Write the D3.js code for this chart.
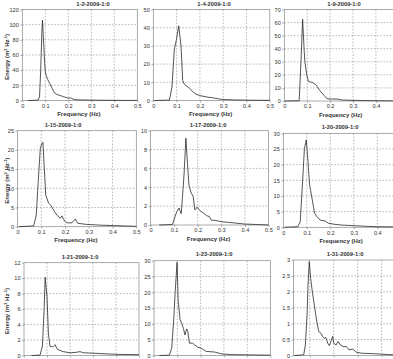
<!DOCTYPE html>
<html>
<head>
<meta charset="utf-8">
<script src="https://cdn.jsdelivr.net/npm/d3@7"></script>
<style>
  html, body { margin: 0; padding: 0; background: #fff; }
  svg { display: block; font-family: "Liberation Sans", Arial, sans-serif; }
</style>
</head>
<body>
<svg id="chart" width="393" height="359"></svg>
<script>
const titles = ["1-2-2009-1:0", "1-4-2009-1:0", "1-9-2009-1:0", "1-15-2009-1:0", "1-17-2009-1:0",
  "1-20-2009-1:0", "1-21-2009-1:0", "1-23-2009-1:0", "1-31-2009-1:0"]
const xTicks = [0, 0.1, 0.2, 0.3, 0.4, 0.5]

const freq1 = [0.025, 0.06, 0.07, 0.075, 0.08, 0.085, 0.088, 0.092, 0.097, 0.1, 0.105, 0.11, 0.12, 0.13, 0.14, 0.15, 0.16, 0.17, 0.18, 0.19, 0.2, 0.21, 0.22, 0.23, 0.25, 0.3, 0.35, 0.4, 0.45, 0.5]
const energy1 = [0, 0.3, 1, 5, 40, 90, 106, 80, 50, 38, 32, 28, 22, 16, 10, 8, 7, 6, 5, 4, 3, 3.5, 2, 1, 0.8, 0.5, 0.3, 0.2, 0.1, 0.1]
const yTicks1 = [0, 20, 40, 60, 80, 100, 120]

const freq2 = [0.005, 0.069, 0.08, 0.09, 0.1, 0.109, 0.119, 0.126, 0.133, 0.155, 0.168, 0.183, 0.2, 0.226, 0.255, 0.283, 0.31, 0.35, 0.4, 0.45, 0.5]
const energy2 = [0, 0.2, 7.4, 27.7, 34, 41, 30, 11, 9, 6.8, 5, 3.5, 2.7, 2, 1.5, 0.8, 0.5, 0.3, 0.2, 0.1, 0.1]
const yTicks2 = [0, 10, 20, 30, 40, 50]

const freq3 = [0.003, 0.065, 0.074, 0.08, 0.087, 0.09, 0.098, 0.105, 0.125, 0.14, 0.155, 0.17, 0.185, 0.2, 0.23, 0.25, 0.3, 0.4, 0.5]
const energy3 = [0, 0.2, 35, 62.5, 37.7, 30, 20, 15, 14, 12, 8, 5, 2, 1.5, 1.5, 0.8, 0.5, 0.2, 0.1]
const yTicks3 = [0, 10, 20, 30, 40, 50, 60, 70]

const freq4 = [0.006, 0.068, 0.079, 0.088, 0.096, 0.103, 0.107, 0.112, 0.119, 0.131, 0.14, 0.152, 0.166, 0.18, 0.187, 0.198, 0.208, 0.229, 0.243, 0.253, 0.29, 0.35, 0.45, 0.5]
const energy4 = [0, 0.2, 3, 12.6, 20.4, 21.7, 22, 16, 8.2, 6.1, 5.6, 4.3, 3, 2.2, 2.8, 1.5, 1, 1, 2, 0.9, 0.6, 0.4, 0.2, 0.1]
const yTicks4 = [0, 5, 10, 15, 20, 25]

const freq5 = [0.037, 0.093, 0.111, 0.121, 0.13, 0.135, 0.142, 0.15, 0.157, 0.163, 0.171, 0.181, 0.188, 0.198, 0.21, 0.223, 0.237, 0.249, 0.258, 0.272, 0.3, 0.343, 0.4, 0.45, 0.5]
const energy5 = [0, 0.05, 1.4, 1.8, 1.2, 2.8, 5.3, 9.2, 6.4, 4.2, 3.5, 3, 1.6, 1.9, 1.5, 1.3, 1, 0.9, 0.5, 0.5, 0.35, 0.25, 0.1, 0.05, 0]
const yTicks5 = [0, 2, 4, 6, 8, 10]

const freq6 = [0.005, 0.062, 0.072, 0.082, 0.09, 0.098, 0.105, 0.112, 0.122, 0.133, 0.143, 0.157, 0.178, 0.192, 0.214, 0.25, 0.305, 0.36, 0.4, 0.5]
const energy6 = [0, 0.2, 1.8, 14.6, 25.2, 27.9, 21, 13.5, 9.3, 4.5, 3.4, 2.3, 2, 1.3, 1, 0.7, 0.5, 0.3, 0.2, 0.1]
const yTicks6 = [0, 5, 10, 15, 20, 25, 30]

const freq7 = [0.033, 0.07, 0.08, 0.088, 0.092, 0.1, 0.106, 0.113, 0.125, 0.135, 0.145, 0.17, 0.2, 0.225, 0.243, 0.26, 0.3, 0.4, 0.5]
const energy7 = [0, 0.05, 1.2, 6.3, 10.1, 7.6, 2.9, 1.2, 1.1, 1.4, 0.8, 0.5, 0.35, 0.4, 0.5, 0.35, 0.3, 0.15, 0.1]
const yTicks7 = [0, 2, 4, 6, 8, 10, 12]

const freq8 = [0.023, 0.066, 0.076, 0.085, 0.091, 0.099, 0.104, 0.112, 0.119, 0.126, 0.133, 0.14, 0.145, 0.152, 0.166, 0.174, 0.188, 0.202, 0.224, 0.26, 0.29, 0.33, 0.4, 0.5]
const energy8 = [0, 0.1, 2.3, 11.8, 20.2, 29.5, 17, 11.3, 10.2, 8.6, 6.5, 8.4, 7.6, 3.9, 3.9, 3.4, 2.6, 2.3, 1.3, 1.1, 0.5, 0.3, 0.2, 0.1]
const yTicks8 = [0, 5, 10, 15, 20, 25, 30]

const freq9 = [0.036, 0.075, 0.082, 0.089, 0.093, 0.098, 0.104, 0.11, 0.117, 0.124, 0.131, 0.138, 0.147, 0.154, 0.161, 0.168, 0.175, 0.182, 0.189, 0.196, 0.2, 0.21, 0.218, 0.228, 0.239, 0.253, 0.263, 0.28, 0.295, 0.319, 0.36, 0.4, 0.45, 0.5]
const energy9 = [0, 0.02, 0.33, 1.27, 2.2, 2.95, 2.42, 2.06, 1.7, 1.33, 1.01, 0.75, 0.7, 0.6, 0.54, 0.56, 0.39, 0.31, 0.46, 0.6, 0.39, 0.33, 0.44, 0.33, 0.28, 0.28, 0.18, 0.2, 0.1, 0.07, 0.06, 0.04, 0.02, 0.01]
const yTicks9 = [0, 0.5, 1, 1.5, 2, 2.5, 3]

const freqs = [freq1, freq2, freq3, freq4, freq5, freq6, freq7, freq8, freq9]
const energies = [energy1, energy2, energy3, energy4, energy5, energy6, energy7, energy8, energy9]
const yTicks = [yTicks1, yTicks2, yTicks3, yTicks4, yTicks5, yTicks6, yTicks7, yTicks8, yTicks9]

// pixel frame of each panel: x range for 0..0.5 Hz, plot top/bottom, left edge of box in Hz
const frames = [
  { x0: 22.3, x1: 137.3, top: 9.5, bottom: 100.5, fmin: 0, tx: 93, ty: 6 },
  { x0: 153.3, x1: 269.8, top: 9.5, bottom: 100.5, fmin: 0, tx: 214, ty: 6 },
  { x0: 284.3, x1: 398.8, top: 9.5, bottom: 101, fmin: 0, tx: 344, ty: 6 },
  { x0: 17.5, x1: 136.3, top: 130.7, bottom: 226.7, fmin: 0, tx: 63, ty: 127 },
  { x0: 150.5, x1: 268.5, top: 130.7, bottom: 225, fmin: 0, tx: 208, ty: 127 },
  { x0: 283.3, x1: 400.8, top: 133.3, bottom: 227.3, fmin: 0, tx: 340, ty: 129 },
  { x0: 24, x1: 139, top: 262.7, bottom: 355.5, fmin: 0, tx: 80, ty: 259 },
  { x0: 154, x1: 270.5, top: 260.7, bottom: 355.5, fmin: 0, tx: 214, ty: 256 },
  { x0: 285.7, x1: 405.7, top: 260, bottom: 355.5, fmin: 0.033, tx: 345, ty: 256 },
]

const W = 393, H = 359
const svg = d3.select("#chart")
const gridColor = "#8a8a8a"
const textColor = "#333"

frames.forEach((fr, i) => {
  const x = d3.scaleLinear().domain([0, 0.5]).range([fr.x0, fr.x1])
  const ticks = yTicks[i]
  const y = d3.scaleLinear().domain([0, ticks[ticks.length - 1]]).range([fr.bottom, fr.top])
  const g = svg.append("g")
  const left = x(fr.fmin)
  const showX = fr.bottom + 16 < H

  // grid
  g.selectAll("line.gx")
    .data(xTicks.filter((t) => t > fr.fmin && t < 0.5))
    .join("line")
    .attr("x1", (t) => x(t)).attr("x2", (t) => x(t))
    .attr("y1", fr.top).attr("y2", fr.bottom)
    .attr("stroke", gridColor).attr("stroke-width", 0.6).attr("stroke-dasharray", "1.6,1.6")
  g.selectAll("line.gy")
    .data(ticks.slice(1, -1))
    .join("line")
    .attr("x1", left).attr("x2", fr.x1)
    .attr("y1", (t) => y(t)).attr("y2", (t) => y(t))
    .attr("stroke", gridColor).attr("stroke-width", 0.6).attr("stroke-dasharray", "1.6,1.6")

  // axes
  const xAxis = g.append("g")
    .attr("transform", `translate(0,${fr.bottom})`)
    .call(d3.axisBottom(x)
      .tickValues(xTicks.filter((t) => t >= fr.fmin && x(t) < W - 6))
      .tickSize(2).tickPadding(1.5)
      .tickFormat(showX ? d3.format("~g") : () => ""))
  const yAxis = g.append("g")
    .attr("transform", `translate(${left},0)`)
    .call(d3.axisLeft(y).tickValues(ticks).tickSize(2).tickFormat(d3.format("~g")))
  ;[xAxis, yAxis].forEach((ax) => {
    ax.select(".domain").remove()
    ax.selectAll("line").attr("stroke", "#777").attr("stroke-width", 0.6)
    ax.selectAll("text").attr("fill", textColor).attr("font-size", 5.6)
  })
  yAxis.selectAll("text").attr("x", -3.5)
  if (!showX) xAxis.selectAll("text").remove()

  // frame
  g.append("rect")
    .attr("x", left).attr("y", fr.top)
    .attr("width", fr.x1 - left).attr("height", fr.bottom - fr.top)
    .attr("fill", "none").attr("stroke", "#888").attr("stroke-width", 0.7)

  // spectrum
  const pts = freqs[i].map((f, k) => [f, energies[i][k]])
  g.append("path")
    .datum(pts)
    .attr("d", d3.line().x((d) => x(d[0])).y((d) => y(d[1])))
    .attr("fill", "none").attr("stroke", "#2a2a2a").attr("stroke-width", 0.8)
    .attr("stroke-linejoin", "round")

  // title
  g.append("text")
    .attr("x", fr.tx).attr("y", fr.ty)
    .attr("text-anchor", "middle")
    .attr("font-size", 5.8).attr("font-weight", "bold").attr("fill", textColor)
    .text(titles[i])

  // x label (bottom row falls outside the picture)
  if (showX) {
    g.append("text")
      .attr("x", (fr.x0 + fr.x1) / 2 - 1).attr("y", fr.bottom + 15.5)
      .attr("text-anchor", "middle")
      .attr("font-size", 6).attr("font-weight", "bold").attr("fill", textColor)
      .text("Frequency (Hz)")
  }

  // y label, first column only
  if (i % 3 === 0) {
    const cy = (fr.top + fr.bottom) / 2 + 2
    const t = g.append("text")
      .attr("transform", `translate(8.5,${cy}) rotate(-90)`)
      .attr("text-anchor", "middle")
      .attr("font-size", 6).attr("font-weight", "bold").attr("fill", textColor)
    t.append("tspan").text("Energy (m")
    t.append("tspan").attr("font-size", 4).attr("dy", -2).text("2")
    t.append("tspan").attr("dy", 2).text(" Hz")
    t.append("tspan").attr("font-size", 4).attr("dy", -2).text("-1")
    t.append("tspan").attr("dy", 2).text(")")
  }
})
</script>
</body>
</html>
